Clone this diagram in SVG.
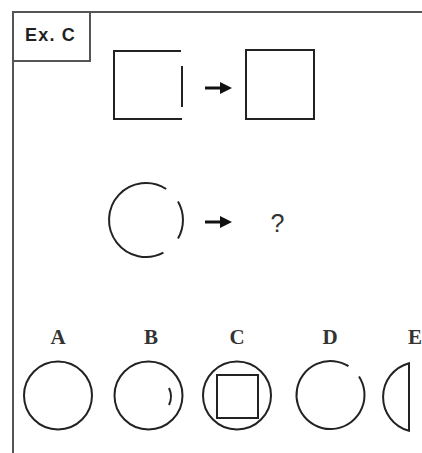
<svg xmlns="http://www.w3.org/2000/svg" width="422" height="453" viewBox="0 0 422 453">
<style>
.ln{fill:none;stroke:#222;stroke-width:2}
.fr{fill:none;stroke:#555;stroke-width:2}
.lbl{font-family:"Liberation Serif",serif;font-size:21px;font-weight:bold;fill:#333;text-anchor:middle}
</style>
<defs>
<marker id="ah" markerWidth="4" markerHeight="4" refX="2" refY="2" orient="auto" markerUnits="strokeWidth">
<path d="M0,0 L4,2 L0,4 z" fill="#111"/>
</marker>
</defs>
<rect width="422" height="453" fill="#fff"/>
<g id="frame">
<path class="fr" d="M13,453 V12 H422"/>
<path class="fr" d="M13,61 H90 V12"/>
<text x="25" y="41" font-family="Liberation Sans,Arial,sans-serif" font-size="18" font-weight="bold" letter-spacing="1.2" fill="#222">Ex. C</text>
</g>
<g id="sq1">
<path class="ln" d="M181,51 H114 V119 H182 M182,66 V107"/>
</g>
<g id="sq2">
<rect class="ln" x="246" y="50" width="68" height="69"/>
</g>
<g id="circ1">
<path class="ln" d="M166.2,189 A37,37 0 1 0 163.4,252.7"/>
<path class="ln" d="M178,201.5 A37,37 0 0 1 178,238.5"/>
</g>
<g id="q">
<text x="277.5" y="232" font-family="Liberation Sans,Arial,sans-serif" font-size="25" fill="#333" text-anchor="middle">?</text>
</g>
<g id="connectors">
<line x1="205" y1="88" x2="226" y2="88" stroke="#111" stroke-width="3" marker-end="url(#ah)"/>
<line x1="205" y1="222" x2="226" y2="222" stroke="#111" stroke-width="3" marker-end="url(#ah)"/>
</g>
<g id="optA">
<text class="lbl" x="58" y="344">A</text>
<circle class="ln" cx="58" cy="395.5" r="34"/>
</g>
<g id="optB">
<text class="lbl" x="151" y="344">B</text>
<circle class="ln" cx="148.5" cy="395.5" r="34"/>
<path class="ln" d="M169,388 Q173,396.5 169,405" stroke-width="1.6"/>
</g>
<g id="optC">
<text class="lbl" x="237" y="344">C</text>
<circle class="ln" cx="237" cy="395.5" r="34"/>
<rect class="ln" x="217" y="375" width="41" height="43"/>
</g>
<g id="optD">
<text class="lbl" x="330" y="344">D</text>
<path class="ln" d="M359,376.5 A34,34 0 1 1 348.5,366.2"/>
</g>
<g id="optE">
<text class="lbl" x="415" y="344">E</text>
<path class="ln" d="M409,363.2 A35,35 0 0 0 409,430.8 Z"/>
</g>
</svg>
